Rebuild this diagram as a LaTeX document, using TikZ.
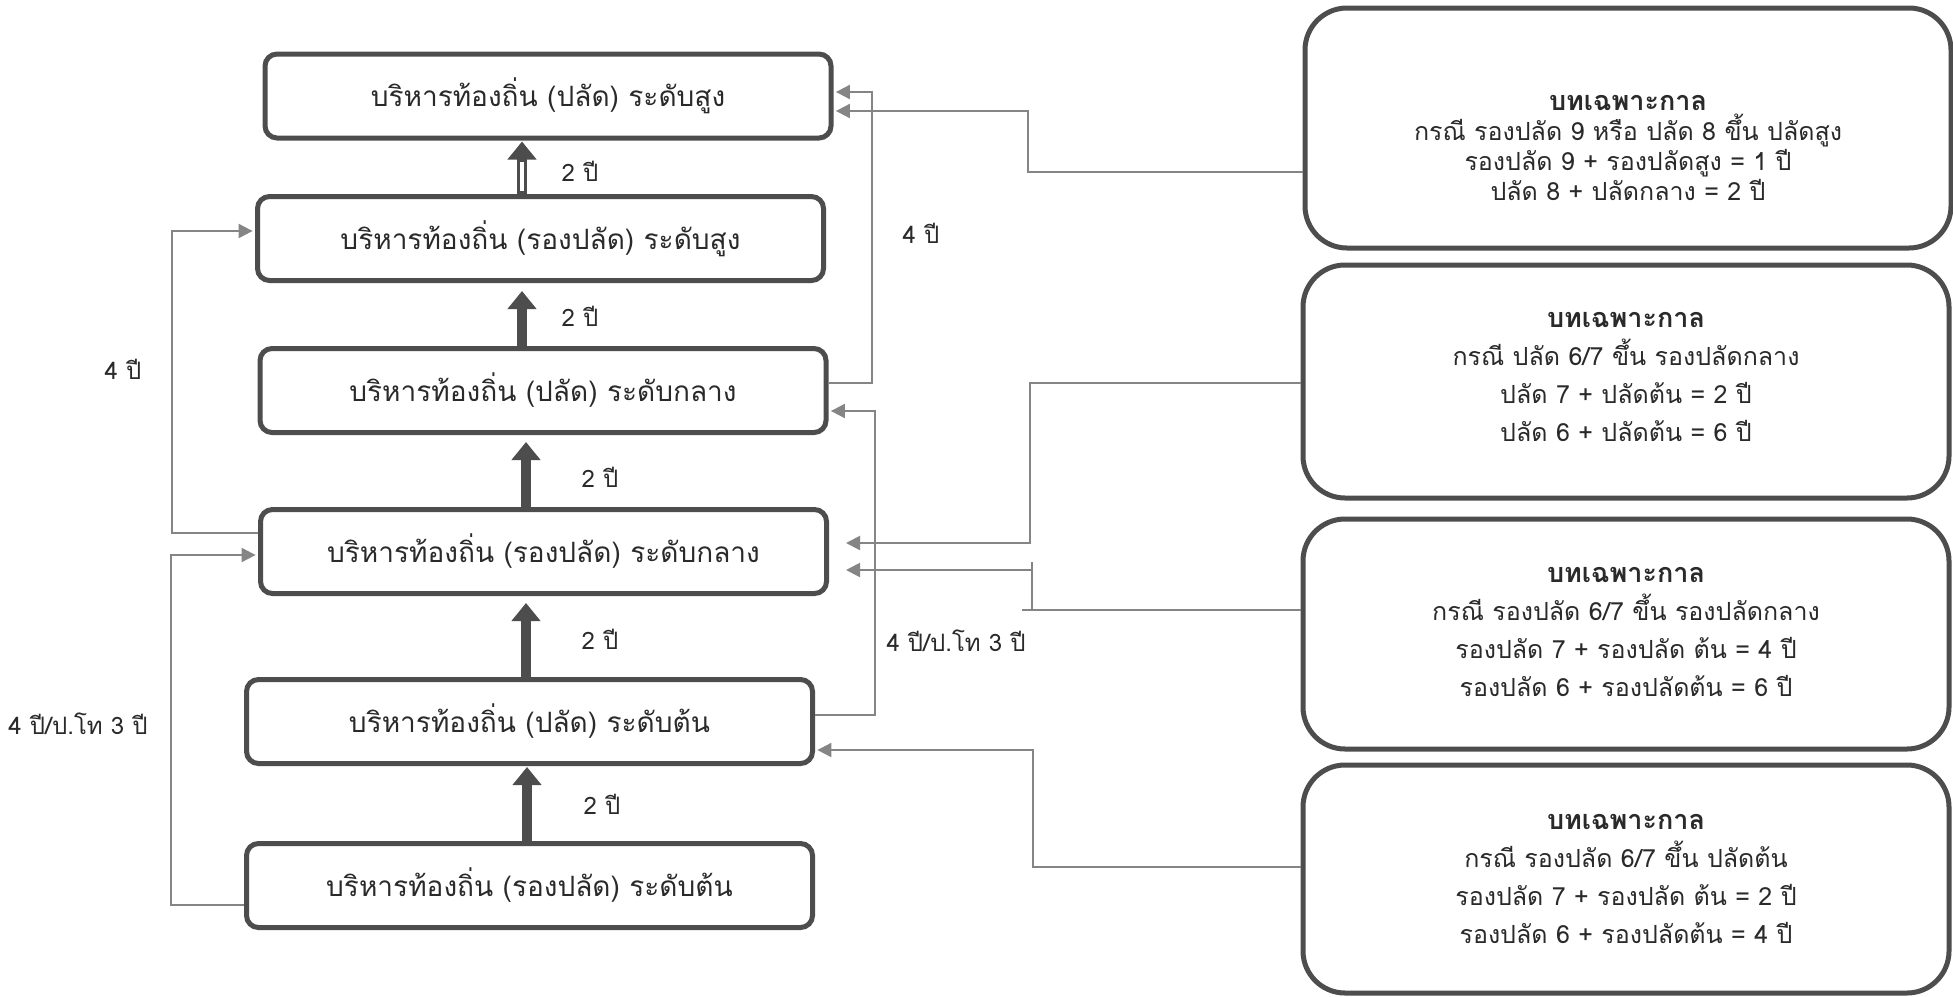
\documentclass[tikz,border=0pt]{standalone}
\usepackage{fontspec}
\newfontfamily\thai[Script=Thai]{Loma}
\usetikzlibrary{arrows.meta,calc}
\definecolor{boxc}{HTML}{4D4D4D}
\definecolor{linec}{HTML}{858585}
\definecolor{txt}{HTML}{2A2A2A}
\newcommand{\rtitle}[1]{{\fontsize{13.5}{16}\selectfont\bfseries #1}}
\begin{document}
\begin{tikzpicture}[x=0.5pt,y=-0.5pt,
  lbox/.style={draw=boxc, line width=2.5pt, rounded corners=6pt, minimum width=283pt, minimum height=42pt, inner sep=0pt, text=txt, font=\thai\fontsize{14}{16}\selectfont},
  rbox/.style={draw=boxc, line width=2.5pt, rounded corners=21pt, minimum width=323pt, inner sep=0pt},
  rtext/.style={align=center, text=txt, inner sep=0pt, font=\thai\fontsize{12.5}{19}\selectfont},
  rtextA/.style={rtext, font=\thai\fontsize{12.5}{15}\selectfont},
  lab/.style={text=txt, inner sep=0pt, font=\thai\fontsize{12}{14}\selectfont},
  conn/.style={draw=linec, line width=1pt, -{Triangle[width=7pt,length=7pt]}, shorten >=1.2pt},
  connline/.style={draw=linec, line width=1pt},
  bigarrow/.style={draw=boxc, line width=5pt, -{Triangle[width=14pt,length=9pt]}}
]
\useasboundingbox (0,0) rectangle (1953,996);
\fill[white] (0,0) rectangle (1953,996);

% left column
\node[lbox] (B1) at (548,96) {บริหารท้องถิ่น (ปลัด) ระดับสูง};
\node[lbox] (B2) at (540.5,238.5) {บริหารท้องถิ่น (รองปลัด) ระดับสูง};
\node[lbox] (B3) at (543,390.5) {บริหารท้องถิ่น (ปลัด) ระดับกลาง};
\node[lbox] (B4) at (543.5,551.5) {บริหารท้องถิ่น (รองปลัด) ระดับกลาง};
\node[lbox] (B5) at (529.5,721.5) {บริหารท้องถิ่น (ปลัด) ระดับต้น};
\node[lbox] (B6) at (529.5,885.5) {บริหารท้องถิ่น (รองปลัด) ระดับต้น};

% right column
\node[rbox, minimum height=120pt] (R1) at (1628,128) {};
\node[rbox, minimum height=116.5pt] (R2) at (1626,381.5) {};
\node[rbox, minimum height=115pt] (R3) at (1626,634) {};
\node[rbox, minimum height=114pt] (R4) at (1626,879) {};

\node[rtextA] (R1t) at (1628,148) {\rtitle{บทเฉพาะกาล}\\กรณี รองปลัด 9 หรือ ปลัด 8 ขึ้น ปลัดสูง\\รองปลัด 9 + รองปลัดสูง = 1 ปี\\ปลัด 8 + ปลัดกลาง = 2 ปี};
\node[rtext] (R2t) at (1626,377) {\rtitle{บทเฉพาะกาล}\\กรณี ปลัด 6/7 ขึ้น รองปลัดกลาง\\ปลัด 7 + ปลัดต้น = 2 ปี\\ปลัด 6 + ปลัดต้น = 6 ปี};
\node[rtext] (R3t) at (1626,632) {\rtitle{บทเฉพาะกาล}\\กรณี รองปลัด 6/7 ขึ้น รองปลัดกลาง\\รองปลัด 7 + รองปลัด ต้น = 4 ปี\\รองปลัด 6 + รองปลัดต้น = 6 ปี};
\node[rtext] (R4t) at (1626,879) {\rtitle{บทเฉพาะกาล}\\กรณี รองปลัด 6/7 ขึ้น ปลัดต้น\\รองปลัด 7 + รองปลัด ต้น = 2 ปี\\รองปลัด 6 + รองปลัดต้น = 4 ปี};

% thick upward arrows
\draw[bigarrow, shorten >=0.5pt] (522,0 |- B2.north) -- (522,0 |- B1.south);
\draw[white, line width=1.6pt] ($(522,0 |- B2.north)+(0,-3)$) -- ($(522,0 |- B1.south)+(0,21)$);
\draw[bigarrow, shorten >=4pt] (522,0 |- B3.north) -- (522,0 |- B2.south);
\draw[bigarrow, shorten >=3.5pt] (526,0 |- B4.north) -- (526,0 |- B3.south);
\draw[bigarrow, shorten >=3.5pt] (526,0 |- B5.north) -- (526,0 |- B4.south);
\draw[bigarrow, shorten >=0.5pt] (527,0 |- B6.north) -- (527,0 |- B5.south);

\node[lab] (y1) at (580,171) {2 ปี};
\node[lab] (y2) at (580,316) {2 ปี};
\node[lab] (y3) at (600,477) {2 ปี};
\node[lab] (y4) at (600,639) {2 ปี};
\node[lab] (y5) at (602,804) {2 ปี};

% left loops
\draw[conn] (B4.west |- 0,533) -- (172,533) -- (172,231) -- (B2.west |- 0,231);
\node[lab] (l4) at (123,369) {4 ปี};
\draw[conn] (B6.west |- 0,905) -- (171,905) -- (171,555) -- (B4.west |- 0,555);
\node[lab] (l43) at (78,724) {4 ปี/ป.โท 3 ปี};

% right loops
\draw[conn] (B3.east |- 0,383) -- (872,383) -- (872,92) -- (B1.east |- 0,92);
\node[lab] (r4) at (921,233) {4 ปี};
\draw[conn] (B5.east |- 0,715) -- (875,715) -- (875,411) -- (B3.east |- 0,411);
\node[lab] (r43) at (956,641) {4 ปี/ป.โท 3 ปี};

% special-case connectors
\draw[conn] (R1.west |- 0,172) -- (1028,172) -- (1028,111) -- (B1.east |- 0,111);
\draw[conn, shorten >=8.5pt] (R2.west |- 0,383) -- (1030,383) -- (1030,543) -- (B4.east |- 0,543);
\draw[conn, shorten >=8.5pt] (R3.west |- 0,610) -- (1032,610) -- (1032,570) -- (B4.east |- 0,570);
\draw[connline] (1032,610) -- (1022,610);
\draw[connline] (1032,571) -- (1032,562);
\draw[conn] (R4.west |- 0,867) -- (1033,867) -- (1033,750) -- (B5.east |- 0,750);
\end{tikzpicture}
\end{document}
